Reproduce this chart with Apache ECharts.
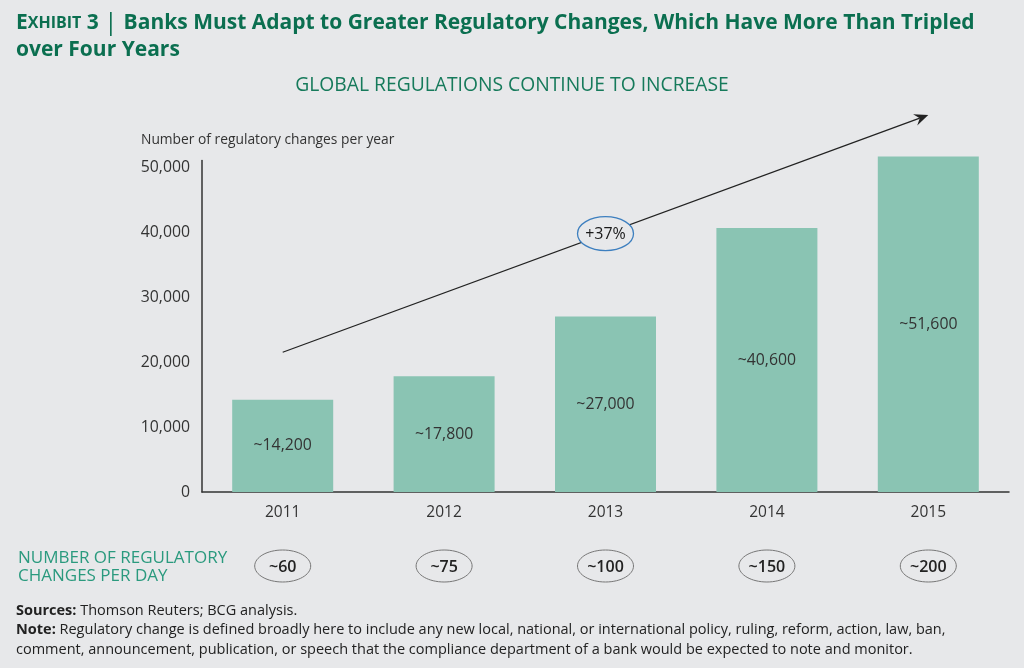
<!DOCTYPE html>
<html>
<head>
<meta charset="utf-8">
<script src="https://cdn.jsdelivr.net/npm/echarts@6/dist/echarts.min.js"></script>
<style>
html,body{margin:0;padding:0;background:#e7e8ea;}
#c{width:1024px;height:668px;}
</style>
</head>
<body>
<div id="c"></div>
<script>
// ---- data ----
const years = ['2011', '2012', '2013', '2014', '2015'];
const changesPerYear = [14200, 17800, 27000, 40600, 51600];
const changesPerDay = ['~60', '~75', '~100', '~150', '~200'];
const growthLabel = '+37%';
const trendStart = ['2011', 21500];
const trendEnd = ['2015', 58000];
const yAxisMin = 0;
const yAxisMax = 51000;
const yAxisInterval = 10000;

const FONT = '"Open Sans", "Noto Sans", sans-serif';
const chart = echarts.init(document.getElementById('c'));

chart.setOption({
  backgroundColor: '#e7e8ea',
  textStyle: { fontFamily: FONT },
  title: [
    {
      left: 16, top: 10, padding: 0,
      text: '{e|E}{sc|XHIBIT}{b| 3 }{bar|| }{b|Banks Must Adapt to Greater Regulatory Changes, Which Have More Than Tripled}\n{b|over Four Years}',
      textStyle: {
        rich: {
          e: { fontSize: 21, fontWeight: 'bold', color: '#0b6f50', fontFamily: FONT, lineHeight: 27 },
          sc: { fontSize: 16, fontWeight: 'bold', color: '#0b6f50', fontFamily: FONT, lineHeight: 27 },
          b: { fontSize: 21, fontWeight: 'bold', color: '#0b6f50', fontFamily: FONT, lineHeight: 27 },
          bar: { fontSize: 24, fontWeight: 'normal', color: '#0b6f50', fontFamily: FONT, lineHeight: 27 }
        }
      }
    },
    {
      left: 'center', top: 76, padding: 0,
      text: 'GLOBAL REGULATIONS CONTINUE TO INCREASE',
      textStyle: { fontSize: 19.3, lineHeight: 20, fontWeight: 'normal', color: '#167a5b', fontFamily: FONT }
    },
    {
      left: 18, top: 549, padding: 0,
      text: 'NUMBER OF REGULATORY\nCHANGES PER DAY',
      textStyle: { fontSize: 17, fontWeight: 'normal', color: '#2a9a7e', fontFamily: FONT, lineHeight: 18 }
    },
    {
      left: 16, top: 601, padding: 0,
      text: '{bd|Sources:}{r| Thomson Reuters; BCG analysis.}\n{bd|Note:}{r| Regulatory change is defined broadly here to include any new local, national, or international policy, ruling, reform, action, law, ban,}\n{r|comment, announcement, publication, or speech that the compliance department of a bank would be expected to note and monitor.}',
      textStyle: {
        rich: {
          bd: { fontSize: 14.5, fontWeight: 'bold', color: '#222', fontFamily: FONT, lineHeight: 19.5 },
          r: { fontSize: 14.5, fontWeight: 'normal', color: '#222', fontFamily: FONT, lineHeight: 19.5 }
        }
      }
    }
  ],
  grid: { left: 202, right: 15, top: 160.5, bottom: 176, containLabel: false },
  xAxis: {
    type: 'category',
    data: years,
    axisLine: { show: true, lineStyle: { color: '#333', width: 1.5 } },
    axisTick: { show: false },
    axisLabel: { fontSize: 15.5, color: '#333', margin: 13, fontFamily: FONT }
  },
  yAxis: {
    type: 'value',
    min: yAxisMin,
    max: yAxisMax,
    interval: yAxisInterval,
    name: 'Number of regulatory changes per year',
    nameLocation: 'end',
    nameGap: 13,
    nameTextStyle: { align: 'left', padding: [0, 0, 0, -61], fontSize: 13.8, color: '#333', fontFamily: FONT },
    axisLine: { show: true, lineStyle: { color: '#333', width: 1.5 } },
    axisTick: { show: false },
    splitLine: { show: false },
    axisLabel: {
      fontSize: 15.8, color: '#333', margin: 12, fontFamily: FONT, showMaxLabel: false,
      formatter: v => v.toLocaleString('en-US')
    }
  },
  series: [{
    type: 'bar',
    data: changesPerYear,
    barWidth: 101,
    clip: false,
    itemStyle: { color: '#8ac4b3' },
    label: {
      show: true,
      position: 'inside',
      fontSize: 15.8,
      color: '#333',
      fontFamily: FONT,
      formatter: p => '~' + p.value.toLocaleString('en-US')
    },
    silent: true
  }]
});

// ---- annotations positioned via the chart's scales ----
const p1 = chart.convertToPixel({ seriesIndex: 0 }, trendStart);
const p2 = chart.convertToPixel({ seriesIndex: 0 }, trendEnd);
const dx = p2[0] - p1[0], dy = p2[1] - p1[1];
const len = Math.sqrt(dx * dx + dy * dy);
const ux = dx / len, uy = dy / len;
const px = -uy, py = ux;
const L = 14, W = 6;
const notch = [p2[0] - ux * L * 0.65, p2[1] - uy * L * 0.65];
const mid = [(p1[0] + p2[0]) / 2, (p1[1] + p2[1]) / 2];

const graphics = [
  { type: 'line', shape: { x1: p1[0], y1: p1[1], x2: notch[0], y2: notch[1] }, style: { stroke: '#222', lineWidth: 1.3 }, z: 10 },
  { type: 'polygon', shape: { points: [
      [p2[0], p2[1]],
      [p2[0] - ux * L + px * W, p2[1] - uy * L + py * W],
      notch,
      [p2[0] - ux * L - px * W, p2[1] - uy * L - py * W]
    ] }, style: { fill: '#222' }, z: 10 },
  { type: 'ellipse', shape: { cx: mid[0], cy: mid[1], rx: 28, ry: 17 }, style: { fill: '#e7e8ea', stroke: '#3d7fbf', lineWidth: 1.3 }, z: 11 },
  { type: 'text', style: { text: growthLabel, x: mid[0], y: mid[1] + 1, align: 'center', verticalAlign: 'middle', font: 'normal 16px ' + FONT, fill: '#1a1a1a' }, z: 12 }
];

years.forEach((y, i) => {
  const cx = chart.convertToPixel({ xAxisIndex: 0 }, y);
  graphics.push({ type: 'ellipse', shape: { cx: cx, cy: 566, rx: 28, ry: 16 }, style: { fill: 'none', stroke: '#777', lineWidth: 1 }, z: 10 });
  graphics.push({ type: 'text', style: { text: changesPerDay[i], x: cx, y: 567, align: 'center', verticalAlign: 'middle', font: '600 16px ' + FONT, fill: '#222' }, z: 11 });
});

chart.setOption({ graphic: graphics });
</script>
</body>
</html>
